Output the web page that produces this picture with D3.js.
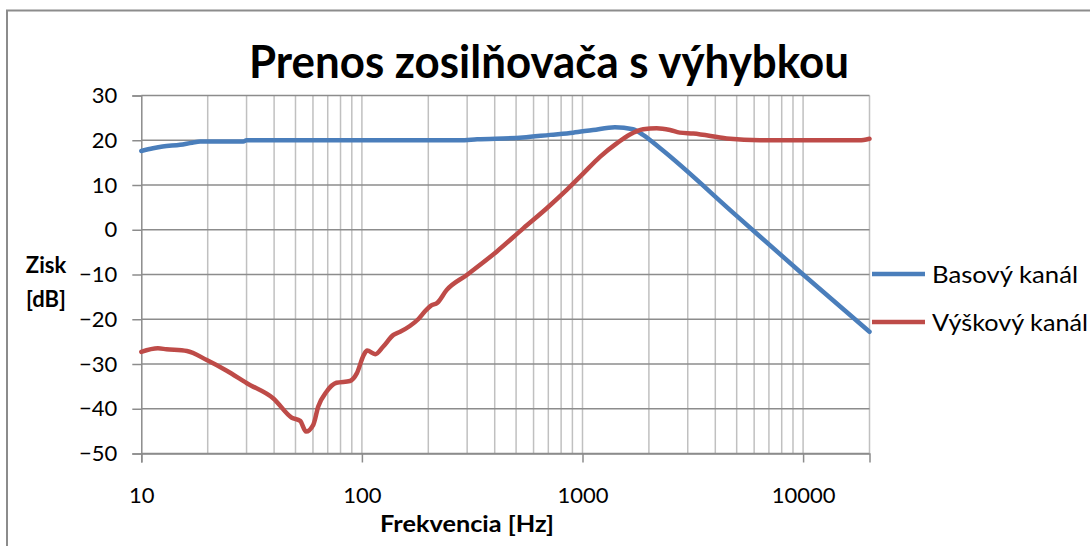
<!DOCTYPE html>
<html>
<head>
<meta charset="utf-8">
<script src="https://cdn.jsdelivr.net/npm/d3@7"></script>
<style>
  html, body { margin: 0; padding: 0; background: #fff; }
  svg { display: block; font-family: Lato, "Open Sans", sans-serif; }
</style>
</head>
<body>
<svg id="chart" width="1090" height="546"></svg>
<script>
// Frequency response of the amplifier with crossover
const chartTitle = "Prenos zosilňovača s výhybkou";
const xTitle = "Frekvencia [Hz]";
const yTitleLines = ["Zisk", "[dB]"];
const seriesNames = ["Basový kanál", "Výškový kanál"];
const xTickValues = [10, 100, 1000, 10000];
const yTickValues = [-50, -40, -30, -20, -10, 0, 10, 20, 30];

// Bass channel (Hz, dB)
const bassFreq = [10, 11.3, 12.5, 15, 17, 18.5, 29, 30, 100, 278, 333, 537, 713, 906, 1116, 1403, 1693, 1880, 2250, 5000, 10000, 20000];
const bassGain = [17.6, 18.2, 18.6, 19.0, 19.45, 19.7, 19.7, 20.0, 20.0, 20.0, 20.2, 20.6, 21.2, 21.7, 22.3, 22.9, 22.45, 21.2, 18.2, 3.1, -10.0, -22.8];

// Treble channel (Hz, dB)
const trebleFreq = [10, 11.9, 13, 16.1, 19.8, 24.4, 30.1, 39.7, 48.1, 52.5, 55.8, 60.2, 63.4, 69.1, 76.7, 88.3, 94.8, 101.9, 105.6, 115, 125, 139, 149, 165, 180, 195, 205, 220, 242, 299, 408, 539, 689, 848, 1009, 1200, 1429, 1641, 1886, 2169, 2493, 2759, 3177, 4505, 6380, 18000, 20000];
const trebleGain = [-27.3, -26.5, -26.7, -27.1, -29.1, -31.5, -34.3, -37.7, -42.0, -42.7, -45.1, -43.6, -39.5, -36.2, -34.2, -33.8, -32.1, -28.0, -27.0, -27.8, -26.1, -23.5, -22.8, -21.5, -20.0, -18.0, -17.0, -16.3, -13.5, -10.1, -4.9, 0.3, 4.8, 8.9, 12.6, 16.3, 19.3, 21.3, 22.45, 22.7, 22.3, 21.7, 21.5, 20.4, 20.0, 20.0, 20.35];

const colors = ["#4a7ebb", "#be4b48"];

const svg = d3.select("#chart");
const plot = { left: 141.3, right: 869.5, top: 95.5, bottom: 453.5 };

const x = d3.scaleLog().domain([10, 20000]).range([plot.left, plot.right]);
const y = d3.scaleLinear().domain([-50, 30]).range([plot.bottom, plot.top]);

// outer chart frame
svg.append("rect")
  .attr("x", 7).attr("y", 10.5)
  .attr("width", 1200).attr("height", 600)
  .attr("fill", "none").attr("stroke", "#8c8c8c").attr("stroke-width", 2);

// vertical gridlines: every 1..9 multiple of each decade
const minorTicks = [];
for (let d = 10; d <= 10000; d *= 10) {
  for (let m = 1; m <= 9; m++) {
    const v = d * m;
    if (v > 10 && v <= 20000) minorTicks.push(v);
  }
}
svg.append("g")
  .selectAll("line").data(minorTicks).join("line")
  .attr("x1", d => x(d)).attr("x2", d => x(d))
  .attr("y1", plot.top).attr("y2", plot.bottom)
  .attr("stroke", "#c0c0c0").attr("stroke-width", 1.5);

// horizontal gridlines
svg.append("g")
  .selectAll("line").data(yTickValues).join("line")
  .attr("x1", plot.left).attr("x2", plot.right)
  .attr("y1", d => y(d)).attr("y2", d => y(d))
  .attr("stroke", "#8c8c8c").attr("stroke-width", 1.5);

// y axis
const yAxis = svg.append("g")
  .attr("transform", `translate(${plot.left},0)`)
  .call(d3.axisLeft(y).tickValues(yTickValues).tickSize(9).tickPadding(15).tickFormat(d3.format("d")));
yAxis.select(".domain").attr("stroke", "#8c8c8c").attr("stroke-width", 1.5);
yAxis.selectAll(".tick line").attr("stroke", "#8c8c8c").attr("stroke-width", 1.5);
yAxis.selectAll(".tick text")
  .attr("font-family", "Lato, sans-serif").attr("font-size", 22).attr("fill", "#000");

// x axis
const xAxis = svg.append("g")
  .attr("transform", `translate(0,${plot.bottom})`)
  .call(d3.axisBottom(x).tickValues(xTickValues).tickSize(9).tickPadding(25).tickFormat(d3.format("d")));
xAxis.select(".domain").attr("stroke", "#8c8c8c").attr("stroke-width", 1.5);
xAxis.selectAll(".tick line").attr("stroke", "#8c8c8c").attr("stroke-width", 1.5);
xAxis.selectAll(".tick text")
  .attr("font-family", "Lato, sans-serif").attr("font-size", 22).attr("fill", "#000");

// series lines
const line = d3.line().x(d => x(d[0])).y(d => y(d[1])).curve(d3.curveMonotoneX);
const series = [
  d3.zip(bassFreq, bassGain),
  d3.zip(trebleFreq, trebleGain)
];
svg.append("g")
  .selectAll("path").data(series).join("path")
  .attr("d", line)
  .attr("fill", "none")
  .attr("stroke", (d, i) => colors[i])
  .attr("stroke-width", 4.5)
  .attr("stroke-linejoin", "round")
  .attr("stroke-linecap", "round");

// title
svg.append("text")
  .attr("x", 549).attr("y", 78)
  .attr("text-anchor", "middle")
  .attr("font-size", 45).attr("font-weight", "bold")
  .attr("textLength", 600).attr("lengthAdjust", "spacingAndGlyphs")
  .text(chartTitle);

// axis titles
svg.append("text")
  .attr("x", 467).attr("y", 532)
  .attr("text-anchor", "middle")
  .attr("font-size", 22).attr("font-weight", "bold")
  .attr("textLength", 174).attr("lengthAdjust", "spacingAndGlyphs")
  .text(xTitle);

svg.append("g").selectAll("text").data(yTitleLines).join("text")
  .attr("x", 46).attr("y", (d, i) => 273 + i * 34)
  .attr("text-anchor", "middle")
  .attr("font-size", 22).attr("font-weight", "bold")
  .text(d => d);

// legend
const legendWidths = [146, 156];
const legend = svg.append("g").selectAll("g").data(seriesNames).join("g")
  .attr("transform", (d, i) => `translate(872,${274 + i * 48})`);
legend.append("line")
  .attr("x1", 0).attr("x2", 53)
  .attr("stroke", (d, i) => colors[i]).attr("stroke-width", 4.5);
legend.append("text")
  .attr("x", 60).attr("y", 8.5)
  .attr("font-size", 24)
  .attr("textLength", (d, i) => legendWidths[i]).attr("lengthAdjust", "spacingAndGlyphs")
  .text(d => d);
</script>
</body>
</html>
